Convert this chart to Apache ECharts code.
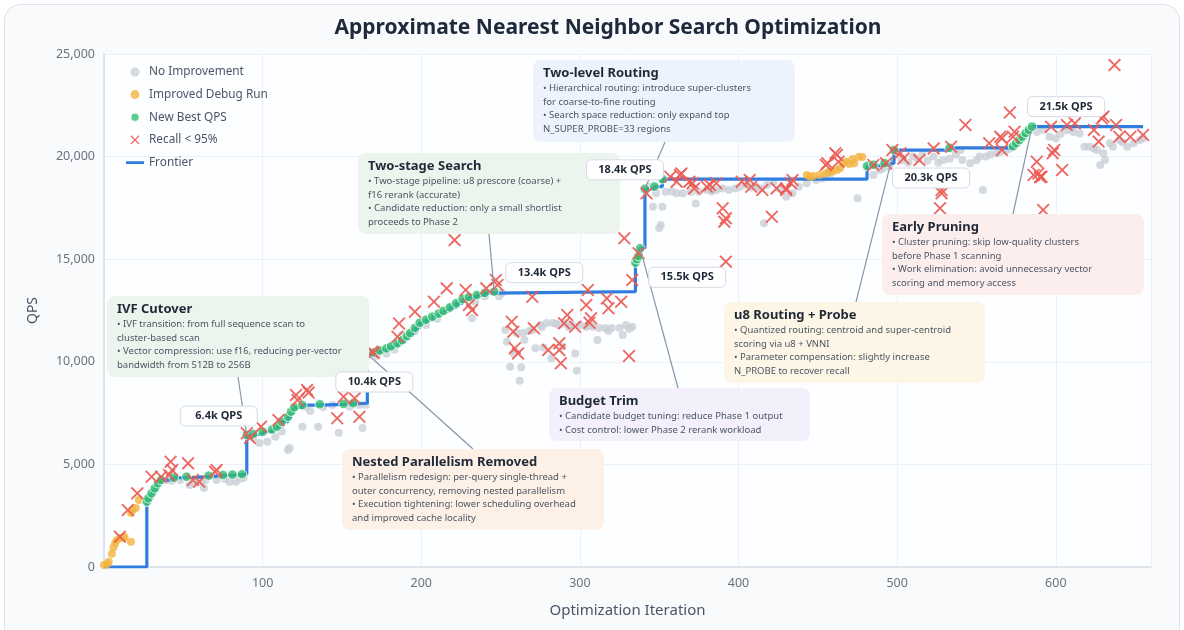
<!DOCTYPE html>
<html>
<head>
<meta charset="utf-8">
<script src="https://cdn.jsdelivr.net/npm/echarts@6/dist/echarts.min.js"></script>
<style>
  html, body { margin: 0; padding: 0; background: #ffffff; }
  #card { position: absolute; left: 4px; top: 4px; width: 1174px; height: 640px;
          border: 1px solid #dde3ec; border-radius: 16px; background: #f8fafc; }
  #chart { position: absolute; left: 0; top: 0; width: 1184px; height: 630px; }
</style>
</head>
<body>
<div id="card"></div>
<div id="chart"></div>
<script>
// [iteration, qps]
var noImprovement = [
  [40,4240],[43,4200],[48,4240],[54,4000],[56,4160],[61,4160],[63,3850],[64,4240],[71,4240],[76,4300],
  [79,4160],[83,4160],[86,4300],[88,4350],
  [94,6290],[98,6040],[103,6100],[108,6350],[112,6600],[116,5700],[117,5800],[125,6840],[127,7800],
  [130,7600],[135,6840],[138,7800],[144,7900],[148,6540],[155,7810],[161,7900],[163,6770],[165,7900],
  [172,10300],[178,10410],[183,10600],[188,11300],[196,11500],[203,11790],[210,12100],[219,12680],
  [222,12770],[232,12130],[234,12930],[240,13200],[249,13200],[251,13350],
  [253,11550],[254,10980],[256,9760],[258,10430],[260,11400],[262,9080],[263,9730],[264,11400],
  [265,11060],[268,11500],[270,11550],[272,10660],[275,11790],[276,11700],[277,10700],[279,11890],
  [282,10170],[283,11890],[285,11850],[287,11790],[289,10740],[291,11870],[293,11700],[295,11790],
  [297,10410],[298,9560],[300,11790],[304,11710],[306,11800],[308,11710],[311,11060],[312,11650],
  [316,11650],[318,11500],[320,11650],[325,11650],[327,11300],[329,11790],[331,11600],[333,11710],
  [344,18530],[346,17560],[348,18210],[350,16520],[351,16670],[352,17560],[354,18290],[358,18300],
  [361,18210],[365,18210],[370,18290],[373,17720],[375,18290],[380,18370],[383,18300],[386,18370],
  [390,18450],[394,18370],[398,18450],[401,18530],[405,18610],[408,18500],[411,18530],[414,18450],
  [416,16750],[418,18610],[422,18780],[426,18450],[430,18040],[434,18210],[438,18530],[443,18700],
  [449,18860],[453,18950],[457,19000],[475,17970],[485,19100],[489,19350],
  [491,19430],[495,19500],[503,19830],[507,19700],[510,20000],[513,19900],[516,20160],[519,19800],
  [523,20000],[526,19700],[529,19830],[533,19900],[537,20100],[540,20320],[541,19830],[546,19670],
  [550,19830],[552,20000],[554,18370],[556,20000],[559,20100],[563,20160],[566,20250],[569,20320],
  [571,20400],
  [588,21200],[592,21300],[596,20970],[600,20890],[603,21100],[607,21300],[611,21200],[615,21130],
  [618,20480],[621,20480],[624,20400],[626,20320],[628,19590],[630,20160],[631,19830],[634,20650],
  [636,20480],[640,20810],[642,20700],[645,20480],[649,20650],[653,20810],[655,20900]
];

var improvedDebug = [
  [0,100],[2,150],[3,250],[5,650],[6,950],[7,1150],[8,1300],[10,1400],[12,1420],[13,1460],
  [17,1230],[17,2630],[18,2780],[20,2870],[22,3260],
  [443,19100],[445,19020],[447,19050],[451,19100],[455,19180],[457,19260],[459,19260],[462,19350],
  [464,19430],[466,19680],[468,19750],[470,19640],[472,19880],[473,19680],[476,19990],[478,19980]
];

var newBest = [
  [27,3180],[28,3350],[30,3590],[32,3830],[34,4080],[36,4240],[44,4350],[52,4400],[66,4450],[75,4480],
  [81,4500],[87,4520],
  [90,6430],[94,6480],[100,6590],[106,6700],[109,6840],[112,7080],[116,7320],[118,7570],[120,7780],
  [125,7890],[136,7930],[151,7950],[157,7980],
  [166,10380],[170,10450],[174,10550],[178,10650],[181,10750],[185,10900],[188,11050],[191,11250],
  [193,11400],[196,11650],[199,11900],[203,12050],[207,12200],[211,12350],[214,12480],[218,12650],
  [222,12850],[226,13050],[230,13150],[235,13250],[240,13350],[246,13420],
  [335,14830],[336,15000],[337,15150],[338,15530],[341,18430],[347,18540],[352,18900],
  [481,19540],[485,19600],[492,19680],[498,20320],[533,20430],[573,20500],[575,20650],[577,20800],
  [579,20970],[581,21150],[583,21300],[585,21460]
];

var lowRecall = [
  [10,1480],[15,2780],[21,3590],[30,4400],[36,4400],[41,4480],[42,5130],[43,4730],[53,5050],[56,4240],
  [60,4160],[70,4640],[71,4730],[90,6520],[92,6290],[99,6840],[110,7160],[121,8380],[122,8140],
  [128,8630],[129,8500],[147,7250],[151,8300],[158,8220],[161,7320],[169,10490],
  [170,10440],[185,11220],[186,11870],[196,12440],[208,12930],[216,13580],[221,15930],[228,13500],
  [230,12770],[232,12520],[241,13580],[247,13990],[248,13740],[257,11950],[258,11470],[259,10660],
  [261,10410],[270,13170],[271,11630],[280,10570],[287,10900],[287,10570],[288,9930],[290,11880],
  [292,12280],[297,11710],[304,12770],[305,13500],[306,11900],[307,12120],[317,13090],[318,12610],
  [326,12930],[328,16020],[331,10280],[333,13990],[337,15290],
  [342,18210],[357,19020],[361,18780],[363,19100],[364,19180],[369,18780],[371,18700],[372,18450],
  [380,18530],[382,18610],[386,18700],[390,17480],[391,16830],[392,16990],[392,14880],[402,18780],
  [407,18860],[408,18530],[415,18370],[421,17070],[424,18450],[430,18450],[430,18370],[433,18700],
  [434,18860],[455,19590],[456,19670],[461,20160],[462,20080],[463,19750],
  [485,19590],[493,19670],[497,20320],[502,20160],[504,19910],[514,19830],[523,20400],[527,17480],
  [528,18210],[528,18370],[534,20480],[543,21540],[558,20650],[565,20970],[566,20320],[566,20890],
  [571,22150],[573,20970],[574,21210],[586,19100],[588,19750],[589,19180],[590,19000],[591,19020],
  [592,17400],[597,21460],[598,20160],[599,20320],[604,19350],[607,21540],[612,21620],[624,21300],
  [627,20730],[629,21860],[630,21950],[637,24460],[638,21540],[640,20970],[647,20970],[655,21050]
];

var lastIteration = 655;
var milestoneIters = [90, 166, 246, 338, 341, 498, 585];

var notes = [
  { target: 90, title: 'IVF Cutover', lines: [
      '\u2022 IVF transition: from full sequence scan to',
      'cluster-based scan',
      '\u2022 Vector compression: use f16, reducing per-vector',
      'bandwidth from 512B to 256B'] },
  { target: 246, title: 'Two-stage Search', lines: [
      '\u2022 Two-stage pipeline: u8 prescore (coarse) +',
      'f16 rerank (accurate)',
      '\u2022 Candidate reduction: only a small shortlist',
      'proceeds to Phase 2'] },
  { target: 341, title: 'Two-level Routing', lines: [
      '\u2022 Hierarchical routing: introduce super-clusters',
      'for coarse-to-fine routing',
      '\u2022 Search space reduction: only expand top',
      'N_SUPER_PROBE=33 regions'] },
  { target: 166, title: 'Nested Parallelism Removed', lines: [
      '\u2022 Parallelism redesign: per-query single-thread +',
      'outer concurrency, removing nested parallelism',
      '\u2022 Execution tightening: lower scheduling overhead',
      'and improved cache locality'] },
  { target: 338, title: 'Budget Trim', lines: [
      '\u2022 Candidate budget tuning: reduce Phase 1 output',
      '\u2022 Cost control: lower Phase 2 rerank workload'] },
  { target: 498, title: 'u8 Routing + Probe', lines: [
      '\u2022 Quantized routing: centroid and super-centroid',
      'scoring via u8 + VNNI',
      '\u2022 Parameter compensation: slightly increase',
      'N_PROBE to recover recall'] },
  { target: 585, title: 'Early Pruning', lines: [
      '\u2022 Cluster pruning: skip low-quality clusters',
      'before Phase 1 scanning',
      '\u2022 Work elimination: avoid unnecessary vector',
      'scoring and memory access'] }
];

// frontier = running best of the new-best runs
var frontier = [[0, 0]];
var best = 0;
newBest.forEach(function (p) {
  best = Math.max(best, p[1]);
  frontier.push([p[0], best]);
});
frontier.push([lastIteration, best]);

function qpsOf(iter) {
  for (var i = 0; i < newBest.length; i++) {
    if (newBest[i][0] === iter) return newBest[i][1];
  }
  return 0;
}

var FONT = '"Noto Sans", "Open Sans", sans-serif';
var crossPath = 'path://M2,0L10,8L18,0L20,2L12,10L20,18L18,20L10,12L2,20L0,18L8,10L0,2Z';
// thin bar with invisible corner specks so the icon keeps its 18x9 box
var lineIcon = 'path://M0,0L0.01,0L0.01,0.01Z M0,3.3L18,3.3L18,6L0,6Z M17.99,9L18,9L18,8.99Z';

var chart = echarts.init(document.getElementById('chart'));
chart.setOption({
  backgroundColor: 'transparent',
  animation: false,
  textStyle: { fontFamily: FONT },
  title: {
    text: 'Approximate Nearest Neighbor Search Optimization',
    left: 603, top: 13, textAlign: 'center',
    textStyle: { fontSize: 21, fontWeight: 'bold', color: '#1e293b', fontFamily: FONT }
  },
  legend: {
    orient: 'vertical', left: 121, top: 60,
    itemWidth: 18, itemHeight: 9, itemGap: 8.6,
    textStyle: { fontSize: 11.8, color: '#4a5568', lineHeight: 14, fontFamily: FONT },
    data: ['No Improvement', 'Improved Debug Run', 'New Best QPS', 'Recall < 95%',
      { name: 'Frontier', icon: lineIcon }]
  },
  grid: { left: 104, right: 33, top: 54, bottom: 63, show: true, backgroundColor: '#fdfeff', borderWidth: 0 },
  xAxis: {
    type: 'value', min: 0, max: 660, interval: 100,
    name: 'Optimization Iteration', nameLocation: 'middle', nameGap: 36,
    nameTextStyle: { fontSize: 15, color: '#4a5568' },
    axisLine: { show: true, lineStyle: { color: '#d8dee8', width: 1.5 } },
    axisTick: { show: false },
    axisLabel: { fontSize: 12.5, color: '#6b7280', showMinLabel: false, showMaxLabel: false, margin: 10 },
    splitLine: { show: true, lineStyle: { color: '#edf0f5' } }
  },
  yAxis: {
    type: 'value', min: 0, max: 25000, interval: 5000,
    name: 'QPS', nameLocation: 'middle', nameGap: 64,
    nameTextStyle: { fontSize: 14, color: '#4a5568' },
    axisLine: { show: true, lineStyle: { color: '#d8dee8', width: 1.5 } },
    axisTick: { show: false },
    axisLabel: { fontSize: 12.5, color: '#6b7280', margin: 9,
      formatter: function (v) { return v.toLocaleString('en-US'); } },
    splitLine: { show: true, lineStyle: { color: '#edf0f5' } }
  },
  series: [
    { name: 'No Improvement', type: 'scatter', data: noImprovement, symbolSize: 8, z: 2,
      itemStyle: { color: '#c9ced7' } },
    { name: 'Frontier', type: 'line', data: frontier, step: 'end', symbol: 'none', z: 3,
      lineStyle: { color: '#2f7de1', width: 3.2 }, itemStyle: { color: '#2f7de1' } },
    { name: 'Improved Debug Run', type: 'scatter', data: improvedDebug, symbolSize: 8, z: 4,
      itemStyle: { color: '#f2b440' } },
    { name: 'New Best QPS', type: 'scatter', data: newBest, symbolSize: 9.5, z: 5,
      itemStyle: { color: '#2fbd6f', borderColor: '#ffffff', borderWidth: 1 } },
    { name: 'Recall < 95%', type: 'scatter', data: lowRecall, symbol: crossPath, symbolSize: 13, z: 6,
      itemStyle: { color: '#ec5a52', opacity: 0.92 } }
  ]
});

// annotation layout (pixels)
var noteBoxes = [
  { box: [107, 296, 262, 81], fill: '#ebf5ee', anchor: [238, 377] },
  { box: [358, 153, 262, 81], fill: '#ebf5ee', anchor: [489, 234] },
  { box: [533, 60, 262, 82], fill: '#edf3fc', anchor: [665, 142] },
  { box: [342, 449, 262, 81], fill: '#fdf0e6', anchor: [473, 449] },
  { box: [549, 388, 261, 53], fill: '#f3f0fc', anchor: [678, 388] },
  { box: [724, 302, 261, 81], fill: '#fdf5e6', anchor: [856, 302] },
  { box: [882, 214, 262, 81], fill: '#fdeeee', anchor: [1013, 214] }
];
var milestoneOffsets = [[-28, -19], [7, 28], [50, -19], [47, 29], [-20, -19], [37, 28], [34, -20]];

function toPx(iter) {
  return chart.convertToPixel({ gridIndex: 0 }, [iter, qpsOf(iter)]);
}

var graphics = [];
notes.forEach(function (n, i) {
  var L = noteBoxes[i];
  var p = toPx(n.target);
  graphics.push({ type: 'line', z: 40,
    shape: { x1: L.anchor[0], y1: L.anchor[1], x2: p[0], y2: p[1] },
    style: { stroke: '#8896ab', lineWidth: 1.2 } });
  var b = L.box;
  graphics.push({ type: 'rect', z: 50,
    shape: { x: b[0], y: b[1], width: b[2], height: b[3], r: 8 },
    style: { fill: L.fill } });
  graphics.push({ type: 'text', z: 51, x: b[0] + 10, y: b[1] + 13,
    style: { text: n.title, fontFamily: FONT, fontSize: 13, fontWeight: 'bold', fill: '#1f2937', verticalAlign: 'middle' } });
  n.lines.forEach(function (t, k) {
    graphics.push({ type: 'text', z: 51, x: b[0] + 10, y: b[1] + 28 + k * 13.8,
      style: { text: t, fontFamily: FONT, fontSize: 9.5, fill: '#4b5563', verticalAlign: 'middle' } });
  });
});

milestoneIters.forEach(function (it, i) {
  var p = toPx(it);
  var cx = p[0] + milestoneOffsets[i][0];
  var cy = p[1] + milestoneOffsets[i][1];
  graphics.push({ type: 'rect', z: 60,
    shape: { x: cx - 38.5, y: cy - 10, width: 77, height: 20, r: 5 },
    style: { fill: '#ffffff', stroke: '#d5dbe4', lineWidth: 1 } });
  graphics.push({ type: 'text', z: 61, x: cx, y: cy,
    style: { text: (qpsOf(it) / 1000).toFixed(1) + 'k QPS', fontFamily: FONT, fontSize: 11,
      fontWeight: 'bold', fill: '#1f2937', align: 'center', verticalAlign: 'middle' } });
});

chart.setOption({ graphic: graphics });
</script>
</body>
</html>
